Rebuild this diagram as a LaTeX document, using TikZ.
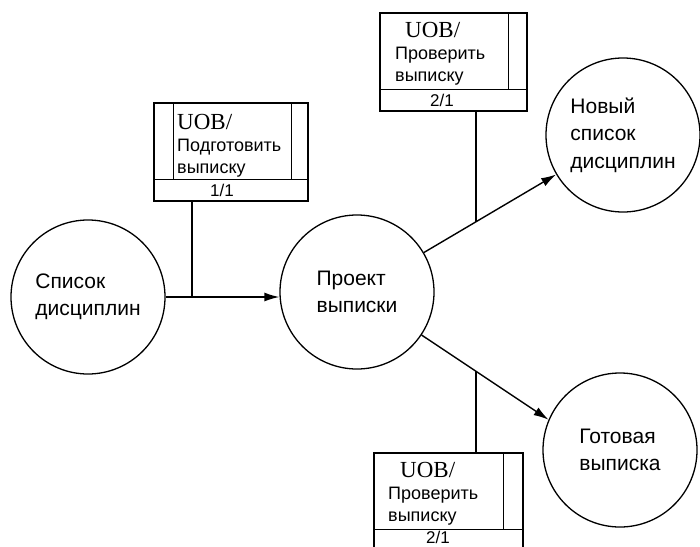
\documentclass[tikz,border=0pt]{standalone}
\usepackage{fontspec}
\setmainfont{Liberation Sans}
\newfontfamily\uobfont{Liberation Serif}
\usetikzlibrary{calc,arrows.meta}
\begin{document}
\begin{tikzpicture}[x=1pt,y=-1pt,
  proc/.style={circle, draw, line width=1.3pt, minimum size=154pt, inner sep=0pt, align=left, font=\fontsize{21}{27.5}\selectfont},
  box/.style={rectangle, draw, line width=1.4pt, inner sep=0pt, minimum height=98pt},
  uob/.style={anchor=base west, inner sep=0pt, font=\uobfont\fontsize{23}{23}\selectfont},
  btxt/.style={anchor=base west, inner sep=0pt, font=\fontsize{18}{18}\selectfont},
  num/.style={anchor=base, inner sep=0pt, font=\fontsize{17}{17}\selectfont},
  flow/.style={line width=1.4pt, -{Latex[length=15pt,width=9pt]}},
  link/.style={line width=1.4pt}]
\useasboundingbox (0,0) rectangle (700,546);
\clip (0,0) rectangle (700,546);

% processes
\node[proc] (c1) at (88,297) {Список\\дисциплин};
\node[proc] (c2) at (357,292) {Проект\\выписки};
\node[proc] (c3) at (623,135) {Новый\\список\\дисциплин};
\node[proc] (c4) at (620,450) {Готовая\\выписка};

% boxes
\node[box, minimum width=154pt] (b1) at (231,152) {};
\node[box, minimum width=147pt] (b2) at (453.5,62) {};
\node[box, minimum width=149pt] (b3) at (448.5,502) {};

\draw[link] ($(b1.south west)+(0,-22)$) -- ($(b1.south east)+(0,-22)$);
\draw[link] ($(b1.north west)+(20,0)$) -- ($(b1.south west)+(20,-22)$);
\draw[link] ($(b1.north east)+(-17,0)$) -- ($(b1.south east)+(-17,-22)$);

\draw[link] ($(b2.south west)+(0,-22)$) -- ($(b2.south east)+(0,-22)$);
\draw[link] ($(b2.north east)+(-19,0)$) -- ($(b2.south east)+(-19,-22)$);

\draw[link] ($(b3.south west)+(0,-22)$) -- ($(b3.south east)+(0,-22)$);
\draw[link] ($(b3.north east)+(-20,0)$) -- ($(b3.south east)+(-20,-22)$);

% box texts
\node[uob] (t1a) at (177,129) {UOB/};
\node[btxt] (t1b) at (177,151) {Подготовить};
\node[btxt] (t1c) at (177,173) {выписку};
\node[num] (t1d) at (222,196) {1/1};

\node[uob] (t2a) at (405,37) {UOB/};
\node[btxt] (t2b) at (395,59) {Проверить};
\node[btxt] (t2c) at (395,81) {выписку};
\node[num] (t2d) at (442,106) {2/1};

\node[uob] (t3a) at (400,477) {UOB/};
\node[btxt] (t3b) at (388,499) {Проверить};
\node[btxt] (t3c) at (388,521) {выписку};
\node[num] (t3d) at (438,543) {2/1};

% connectors
\draw[flow] (c1.east) -- coordinate[pos=0.23] (j1) (c1.east -| c2.west);
\draw[link] (j1) -- (j1 |- b1.south);
\draw[flow] (c2) -- coordinate[pos=0.395] (j2) (c3);
\draw[link] (j2) -- (j2 |- b2.south);
\draw[flow] (c2) -- coordinate[pos=0.43] (j3) (c4.157);
\draw[link] (j3) -- (j3 |- b3.north);
\end{tikzpicture}
\end{document}
